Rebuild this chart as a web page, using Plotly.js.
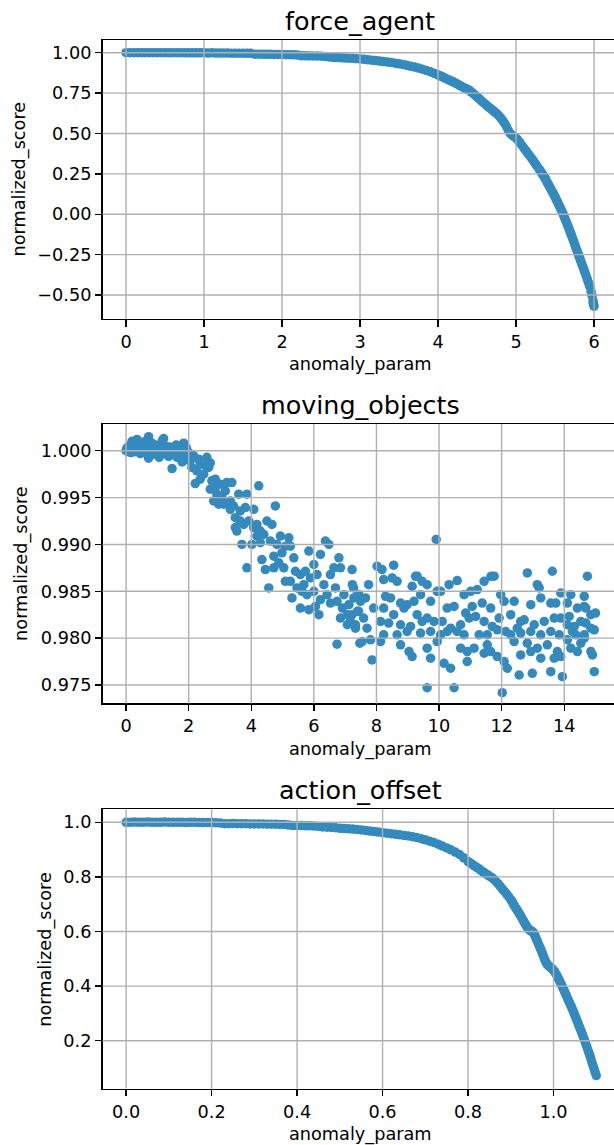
<!DOCTYPE html>
<html><head><meta charset="utf-8">
<script src="https://cdn.plot.ly/plotly-3.0.1.min.js"></script>
<style>html,body{margin:0;padding:0;background:#fff}</style>
</head><body><div id="chart" style="width:614px;height:1145px"></div>
<script>
// ---------- force_agent ----------
const forceX = [0,0.05,0.1,0.15,0.2,0.25,0.3,0.35,0.4,0.45,0.5,0.55,0.6,0.65,0.7,0.75,0.8,0.85,0.9,0.95,1.0,1.05,1.1,1.15,1.2,1.25,1.3,1.35,1.4,1.45,1.5,1.55,1.6,1.65,1.7,1.75,1.8,1.85,1.9,1.95,2.0,2.05,2.1,2.15,2.2,2.25,2.3,2.35,2.4,2.45,2.5,2.55,2.6,2.65,2.7,2.75,2.8,2.85,2.9,2.95,3.0,3.05,3.1,3.15,3.2,3.25,3.3,3.35,3.4,3.45,3.5,3.55,3.6,3.65,3.7,3.75,3.8,3.85,3.9,3.95,4.0,
4.025,4.05,4.075,4.1,4.125,4.15,4.175,4.2,4.225,4.25,4.275,4.3,4.325,4.35,4.375,4.4,4.425,4.45,4.475,4.5,4.525,4.55,4.575,4.6,4.625,4.65,4.675,4.7,4.725,4.75,4.775,4.8,4.825,4.85,4.875,4.9,4.925,4.95,4.975,5.0,5.025,5.05,5.075,5.1,5.125,5.15,5.175,5.2,5.225,5.25,5.275,5.3,5.325,5.35,5.375,5.4,5.425,5.45,5.475,5.5,5.525,5.55,5.575,5.6,5.625,5.65,5.675,5.7,5.725,5.75,5.775,5.8,5.825,5.85,5.875,5.9,5.925,5.95,5.9625,5.975,5.9875,6.0,
5.3125,5.3375,5.3625,5.3875,5.4125,5.4375,5.4625,5.4875,5.5125,5.5375,5.5625,5.5875,5.6125,5.6375,5.6625,5.6875,5.7125,5.7375,5.7625,5.7875,5.8125,5.8375,5.8625,5.8875,5.9125,5.9375,5.99,5.995];
const forceY = [1.0,1.0,1.0,1.0,1.0,1.0,1.0,1.0,1.0,1.0,1.0,0.999,1.0,0.999,1.0,0.999,0.999,0.999,0.999,0.999,0.999,0.998,0.999,0.998,0.998,0.998,0.998,0.997,0.997,0.997,0.997,0.996,0.996,0.991,0.991,0.990,0.990,0.990,0.989,0.989,0.989,0.988,0.988,0.987,0.985,0.981,0.981,0.980,0.980,0.979,0.978,0.977,0.974,0.971,0.970,0.969,0.967,0.966,0.965,0.963,0.961,0.959,0.956,0.954,0.951,0.948,0.945,0.942,0.939,0.935,0.931,0.927,0.922,0.916,0.911,0.905,0.898,0.890,0.882,0.872,0.862,
0.857,0.852,0.846,0.840,0.834,0.829,0.823,0.818,0.811,0.805,0.798,0.791,0.785,0.779,0.774,0.768,0.758,0.748,0.737,0.726,0.716,0.705,0.694,0.684,0.673,0.663,0.654,0.644,0.634,0.624,0.612,0.598,0.583,0.565,0.546,0.520,0.500,0.489,0.480,0.472,0.459,0.443,0.427,0.410,0.394,0.378,0.362,0.346,0.329,0.312,0.294,0.276,0.258,0.240,0.220,0.197,0.175,0.153,0.130,0.107,0.082,0.057,0.031,0.005,-0.025,-0.055,-0.085,-0.117,-0.150,-0.183,-0.217,-0.250,-0.283,-0.316,-0.349,-0.383,-0.418,-0.452,-0.478,-0.505,-0.537,-0.570,
0.267,0.249,0.230,0.209,0.186,0.164,0.142,0.119,0.095,0.070,0.044,0.018,-0.010,-0.040,-0.070,-0.101,-0.133,-0.166,-0.200,-0.233,-0.266,-0.299,-0.332,-0.366,-0.400,-0.435,-0.550,-0.560];

// ---------- moving_objects ----------
const movingPoints = [
[0,1.0],[0.03,1.0003],[0.06,0.9999],[0.1,1.0005],[0.13,1.0002],[0.16,0.9998],[0.19,1.001],[0.2,1.0006],[0.23,1.0001],[0.26,1.0004],[0.3,0.9999],[0.33,1.0007],[0.35,1.0012],[0.36,1.0003],[0.4,1.0],[0.43,1.0005],[0.46,0.9997],[0.5,1.0009],[0.53,1.0002],[0.56,1.0006],[0.6,0.9998],[0.63,1.0003],[0.66,1.0011],[0.72,1.0015],[0.72,0.9992],[0.7,1.0007],[0.73,1.0001],[0.76,0.9995],[0.8,1.0004],[0.83,1.0008],[0.86,0.9999],[0.9,1.0002],[0.93,1.0006],[0.96,0.9996],[1.0,1.0001],[1.03,1.0004],[1.06,0.9993],[1.1,1.0006],[1.13,0.9998],[1.16,1.0011],[1.2,1.0013],[1.2,1.0002],[1.23,0.9997],[1.26,1.0005],[1.3,0.9999],[1.33,1.0002],[1.36,0.9994],[1.4,1.0004],[1.43,1.0],[1.47,0.9981],[1.5,0.9996],[1.53,1.0003],[1.57,0.9999],[1.6,1.0006],[1.63,0.9993],[1.67,1.0002],[1.7,0.9997],[1.73,1.0005],[1.77,0.9999],[1.79,0.9988],[1.8,1.0004],[1.83,0.9994],[1.84,1.0008],[1.87,1.0],[1.9,0.9997],[1.93,1.0003],[1.97,0.9991],
[2.16,0.99946],[2.37,0.99857],[2.58,0.99929],[2.64,0.99821],[2.26,0.99786],[2.48,0.9975],[2.21,0.9965],[2.10,0.99821],[2.37,0.99696],[2.0,0.9998],[2.05,0.9989],[1.89,0.9993],[2.32,0.9991],[2.53,0.9984],[2.69,0.9987],
[2.69,0.99589],[2.85,0.99696],[3.01,0.99643],[3.22,0.9966],[3.38,0.9966],[2.80,0.99464],[2.90,0.99536],[3.12,0.99429],[3.33,0.99464],[3.06,0.995],[3.33,0.99375],[2.96,0.99429],[2.74,0.99679],[3.17,0.99571],[2.85,0.99607],
[3.60,0.99536],[3.86,0.99536],[4.24,0.99625],[3.49,0.99286],[3.65,0.99357],[3.81,0.99393],[3.54,0.99143],[3.76,0.99214],[3.92,0.9925],[3.70,0.99],[4.02,0.99],[3.86,0.9875],[4.08,0.99375],[3.44,0.9941],[3.65,0.9925],[3.49,0.9918],
[4.08,0.99179],[4.18,0.99089],[4.29,0.99143],[4.40,0.99107],[4.50,0.9925],[4.66,0.99214],[4.77,0.99411],[4.82,0.99],[4.93,0.99089],[5.09,0.98982],[5.20,0.99071],[5.25,0.98982],[4.34,0.98839],[4.45,0.98732],[4.72,0.98875],[4.72,0.9875],[4.88,0.98804],[5.04,0.9875],[4.56,0.98536],[5.09,0.98607],[4.98,0.98911],[4.18,0.99214],[4.61,0.99036],[4.29,0.99018],
[5.25,0.98607],[5.36,0.98857],[5.57,0.98679],[5.73,0.98714],[5.84,0.98929],[6.00,0.98786],[6.10,0.98679],[6.21,0.98893],[6.37,0.99036],[6.48,0.99],[5.46,0.98536],[5.62,0.985],[5.78,0.98464],[6.00,0.985],[6.21,0.98411],[6.42,0.98464],[5.57,0.98321],[5.84,0.98304],[6.16,0.9825],[5.30,0.98429],[5.68,0.98571],[6.53,0.98679],[6.64,0.9875],[6.80,0.98857],[6.85,0.9875],[5.41,0.98714],[5.89,0.98643],[6.32,0.98571],[6.05,0.98339],[6.53,0.98375],
[6.74,0.98393],[6.96,0.98464],[7.12,0.98357],[7.28,0.98429],[7.44,0.98464],[7.07,0.9825],[6.85,0.98214],[7.17,0.98179],[7.39,0.98286],[7.07,0.98143],[6.74,0.97936],[7.47,0.97946],[6.69,0.98536],[7.23,0.98571],[6.91,0.98321],[7.33,0.98107],
[7.22,0.98732],[7.27,0.98536],[7.38,0.98446],[7.49,0.98393],[7.65,0.98429],[7.75,0.98571],[7.22,0.9825],[7.43,0.98286],[7.59,0.98214],[7.33,0.98143],[7.54,0.97964],[7.81,0.97982],[7.86,0.97768],[7.70,0.98107],[7.91,0.98321],
[8.02,0.98768],[8.18,0.98732],[8.55,0.98779],[8.23,0.98625],[8.50,0.98643],[8.66,0.98607],[9.14,0.98554],[9.30,0.98661],[9.62,0.98571],[9.46,0.98607],[8.29,0.98446],[8.45,0.98429],[8.77,0.98375],[8.98,0.98357],[9.20,0.98393],[9.41,0.98464],[9.73,0.98393],[9.94,0.985],[8.23,0.98321],[8.55,0.9825],[8.88,0.98321],[9.30,0.9825],[9.62,0.98214],[8.13,0.98179],[8.39,0.98161],[8.77,0.98143],[9.09,0.98125],[9.46,0.98179],[9.84,0.98179],[8.23,0.98036],[8.66,0.98036],[8.98,0.98071],[9.41,0.98054],[9.73,0.98071],[8.13,0.97964],[8.77,0.97929],[9.04,0.97857],[9.14,0.97804],[9.62,0.97893],[9.73,0.97786],[9.94,0.97964],[9.91,0.99054],[9.62,0.97471],[9.25,0.9866],
[10.32,0.98571],[10.58,0.98614],[10.05,0.985],[10.80,0.98464],[11.01,0.985],[11.22,0.98518],[11.44,0.98607],[11.76,0.98661],[10.26,0.98321],[10.48,0.98339],[10.85,0.98268],[11.06,0.98339],[11.38,0.98375],[11.65,0.98321],[11.97,0.98464],[12.08,0.98393],[10.10,0.98179],[10.37,0.98107],[10.69,0.98143],[10.96,0.98214],[11.17,0.98232],[11.44,0.98179],[11.70,0.98125],[11.92,0.98214],[10.05,0.98036],[10.26,0.98071],[10.58,0.98071],[10.80,0.98036],[11.28,0.98036],[11.54,0.98036],[11.86,0.98089],[12.13,0.98071],[10.69,0.97893],[10.90,0.97857],[11.12,0.97893],[11.44,0.97839],[10.16,0.97732],[10.37,0.97679],[10.90,0.9775],[11.65,0.97857],[11.86,0.97804],[12.08,0.9775],[12.18,0.97679],[11.54,0.97929],[10.48,0.97471],[12.02,0.97418],[11.66,0.9866],
[12.40,0.98393],[12.82,0.98696],[13.14,0.98571],[13.20,0.98536],[13.62,0.98714],[13.89,0.98482],[14.21,0.98464],[14.64,0.98446],[12.29,0.9825],[12.61,0.98179],[12.93,0.98357],[13.25,0.98429],[13.57,0.98375],[13.73,0.98375],[14.10,0.98375],[14.42,0.98321],[14.64,0.98339],[12.50,0.98107],[12.72,0.98196],[13.04,0.98143],[13.36,0.98179],[13.68,0.98214],[13.89,0.98214],[14.16,0.98232],[14.53,0.98179],[12.29,0.98036],[12.61,0.98054],[12.93,0.98071],[13.25,0.98036],[13.57,0.98071],[13.84,0.98036],[14.26,0.98071],[14.64,0.98036],[12.40,0.97964],[12.82,0.97946],[13.14,0.97893],[13.46,0.97929],[13.78,0.97857],[14.21,0.97893],[14.53,0.97946],[12.61,0.97821],[12.93,0.97857],[13.25,0.97786],[13.68,0.97786],[13.89,0.97804],[14.42,0.97857],[12.56,0.97607],[12.98,0.97625],[13.57,0.97643],[13.94,0.97589],
[14.74,0.98661],[14.69,0.98321],[14.85,0.9825],[15.0,0.98268],[14.10,0.98143],[14.32,0.98125],[14.69,0.98161],[14.85,0.98107],[14.96,0.98089],[14.64,0.98],[14.10,0.97982],[14.37,0.98036],[14.85,0.97857],[14.90,0.97821],[14.96,0.97643]
];

// ---------- action_offset ----------
const actionX = [0,0.01,0.02,0.03,0.04,0.05,0.06,0.07,0.08,0.09,0.1,0.11,0.12,0.13,0.14,0.15,0.16,0.17,0.18,0.19,0.2,0.21,0.22,0.23,0.24,0.25,0.26,0.27,0.28,0.29,0.3,0.31,0.32,0.33,0.34,0.35,0.36,0.37,0.38,0.39,0.4,0.41,0.42,0.43,0.44,0.45,0.46,0.47,0.48,0.49,0.5,0.51,0.52,0.53,0.54,0.55,0.56,0.57,0.58,0.59,0.6,0.61,0.62,0.63,0.64,0.65,0.66,0.67,0.68,0.69,0.7,0.71,0.72,0.73,0.74,0.75,0.76,0.77,0.78,0.79,0.8,
0.805,0.81,0.815,0.82,0.825,0.83,0.835,0.84,0.845,0.85,0.855,0.86,0.865,0.87,0.875,0.88,0.885,0.89,0.895,0.9,0.905,0.91,0.915,0.92,0.925,0.93,0.935,0.94,0.945,0.95,0.955,0.96,0.965,0.97,0.975,0.98,0.985,0.99,0.995,1.0,1.005,1.01,1.015,1.02,1.025,1.03,1.035,1.04,1.045,1.05,1.055,1.06,1.065,1.07,1.075,1.08,1.085,1.09,1.095,1.1,
0.9025,0.9075,0.9125,0.9175,0.9225,0.9275,0.9325,0.9375,0.9425,0.9475,0.9525,0.9575,0.9625,0.9675,0.9725,0.9775,0.9825,0.9875,0.9925,0.9975,1.0025,1.0075,1.0125,1.0175,1.0225,1.0275,1.0325,1.0375,1.0425,1.0475,1.0525,1.0575,1.0625,1.0675,1.0725,1.0775,1.0825,1.0875,1.0925,1.0975];
const actionY = [1.0,1.0,1.001,1.0,1.0,1.001,1.0,1.0,1.0,1.001,1.0,1.0,1.0,1.0,0.999,1.0,1.0,0.999,0.999,0.999,0.999,0.998,0.997,0.995,0.995,0.996,0.995,0.995,0.995,0.994,0.994,0.994,0.994,0.993,0.993,0.993,0.992,0.992,0.990,0.988,0.988,0.988,0.987,0.987,0.986,0.985,0.983,0.982,0.981,0.980,0.978,0.977,0.976,0.975,0.974,0.972,0.970,0.968,0.966,0.964,0.962,0.960,0.958,0.956,0.954,0.952,0.950,0.947,0.944,0.940,0.936,0.931,0.926,0.920,0.913,0.906,0.899,0.891,0.882,0.870,0.856,
0.851,0.846,0.840,0.835,0.830,0.824,0.818,0.813,0.808,0.803,0.798,0.792,0.784,0.775,0.766,0.756,0.747,0.738,0.728,0.717,0.704,0.690,0.678,0.665,0.652,0.638,0.624,0.612,0.604,0.600,0.590,0.572,0.553,0.535,0.515,0.495,0.480,0.472,0.466,0.458,0.447,0.432,0.416,0.400,0.383,0.365,0.347,0.330,0.312,0.293,0.273,0.253,0.233,0.212,0.191,0.168,0.145,0.120,0.096,0.072,
0.711,0.697,0.684,0.672,0.659,0.645,0.631,0.618,0.608,0.602,0.596,0.581,0.563,0.544,0.525,0.505,0.487,0.476,0.469,0.462,0.453,0.440,0.424,0.408,0.392,0.374,0.356,0.339,0.321,0.303,0.283,0.263,0.243,0.223,0.202,0.180,0.157,0.133,0.108,0.084];

// ---------- ticks ----------
const forceXTicks = [0,1,2,3,4,5,6];
const forceXLabels = ['0','1','2','3','4','5','6'];
const forceYTicks = [-0.5,-0.25,0,0.25,0.5,0.75,1.0];
const forceYLabels = ['\u22120.50','\u22120.25','0.00','0.25','0.50','0.75','1.00'];
const movingXTicks = [0,2,4,6,8,10,12,14];
const movingXLabels = ['0','2','4','6','8','10','12','14'];
const movingYTicks = [0.975,0.98,0.985,0.99,0.995,1.0];
const movingYLabels = ['0.975','0.980','0.985','0.990','0.995','1.000'];
const actionXTicks = [0,0.2,0.4,0.6,0.8,1.0];
const actionXLabels = ['0.0','0.2','0.4','0.6','0.8','1.0'];
const actionYTicks = [0.2,0.4,0.6,0.8,1.0];
const actionYLabels = ['0.2','0.4','0.6','0.8','1.0'];
const titles = ['force_agent','moving_objects','action_offset'];
const xLabel = 'anomaly_param';
const yLabel = 'normalized_score';

const W = 614, H = 1145;
const COLOR = '#348ABD';
const FONT = 'DejaVu Sans, Verdana, sans-serif';
const TICKFS = 17.7, LABELFS = 17.7, TITLEFS = 25.4;
const LW = 1.4;
const GRID = '#b0b0b0';

const xDom = [102.6 / W, 1];
const frames = [[40, 319], [424, 703.4], [809.3, 1088.7]];
const yDom = frames.map(f => [1 - f[1] / H, 1 - f[0] / H]);

const marker = {color: COLOR, size: 9.5, line: {width: 0}};
const movingX = movingPoints.map(p => p[0]);
const movingY = movingPoints.map(p => p[1]);

const traces = [
  {type: 'scatter', mode: 'markers', x: forceX, y: forceY, xaxis: 'x', yaxis: 'y', marker: marker, hoverinfo: 'none'},
  {type: 'scatter', mode: 'markers', x: movingX, y: movingY, xaxis: 'x2', yaxis: 'y2', marker: marker, hoverinfo: 'none'},
  {type: 'scatter', mode: 'markers', x: actionX, y: actionY, xaxis: 'x3', yaxis: 'y3', marker: marker, hoverinfo: 'none'}
];

function xa(dom, range, tv, tt, anchor) {
  return {domain: dom, range: range, anchor: anchor, tickmode: 'array', tickvals: tv, ticktext: tt,
    showgrid: false, zeroline: false, showline: true, linecolor: '#000', linewidth: LW, mirror: true,
    ticks: 'outside', ticklen: 6.2, tickwidth: LW, tickcolor: '#000',
    tickfont: {family: FONT, size: TICKFS, color: '#000'}, fixedrange: true};
}
function ya(dom, range, tv, tt, anchor) {
  return {domain: dom, range: range, anchor: anchor, tickmode: 'array', tickvals: tv, ticktext: tt,
    showgrid: false, zeroline: false, showline: true, linecolor: '#000', linewidth: LW, mirror: false,
    ticks: 'outside', ticklen: 6.2, tickwidth: LW, tickcolor: '#000',
    tickfont: {family: FONT, size: TICKFS, color: '#000'}, fixedrange: true};
}

// grid lines drawn above the markers (as in the reference), built from tick arrays
const shapes = [];
function grid(xref, yref, xt, yt) {
  xt.forEach(v => shapes.push({type: 'line', layer: 'above', xref: xref, yref: yref + ' domain', x0: v, x1: v, y0: 0, y1: 1, line: {color: GRID, width: LW}}));
  yt.forEach(v => shapes.push({type: 'line', layer: 'above', xref: xref + ' domain', yref: yref, x0: 0, x1: 1, y0: v, y1: v, line: {color: GRID, width: LW}}));
}
grid('x', 'y', forceXTicks, forceYTicks);
grid('x2', 'y2', movingXTicks, movingYTicks);
grid('x3', 'y3', actionXTicks, actionYTicks);

const annotations = [];
const cx = 360 / W;
const titleY = [20.6, 404.6, 789.9];
const xlabY = [365, 749.4, 1134.7];
const ylabX = [19, 22.2, 44.8];
for (let i = 0; i < 3; i++) {
  annotations.push({xref: 'paper', yref: 'paper', x: cx, y: 1 - titleY[i] / H, xanchor: 'center', yanchor: 'middle', showarrow: false, text: titles[i], font: {family: FONT, size: TITLEFS, color: '#000'}});
  annotations.push({xref: 'paper', yref: 'paper', x: cx, y: 1 - xlabY[i] / H, xanchor: 'center', yanchor: 'middle', showarrow: false, text: xLabel, font: {family: FONT, size: LABELFS, color: '#000'}});
  const mid = (frames[i][0] + frames[i][1]) / 2;
  annotations.push({xref: 'paper', yref: 'paper', x: ylabX[i] / W, y: 1 - mid / H, xanchor: 'center', yanchor: 'middle', textangle: -90, showarrow: false, text: yLabel, font: {family: FONT, size: LABELFS, color: '#000'}});
}

const layout = {
  width: W, height: H, margin: {l: 0, r: 0, t: 0, b: 0, pad: 0},
  paper_bgcolor: '#fff', plot_bgcolor: '#fff', showlegend: false,
  xaxis: xa(xDom, [-0.3, 6.256], forceXTicks, forceXLabels, 'y'),
  yaxis: ya(yDom[0], [-0.6486, 1.0786], forceYTicks, forceYLabels, 'x'),
  xaxis2: xa(xDom, [-0.75, 15.59], movingXTicks, movingXLabels, 'y2'),
  yaxis2: ya(yDom[1], [0.97304, 1.00285], movingYTicks, movingYLabels, 'x2'),
  xaxis3: xa(xDom, [-0.055, 1.1415], actionXTicks, actionXLabels, 'y3'),
  yaxis3: ya(yDom[2], [0.0241, 1.0476], actionYTicks, actionYLabels, 'x3'),
  shapes: shapes, annotations: annotations
};

Plotly.newPlot('chart', traces, layout, {staticPlot: true, displayModeBar: false});
</script>
</body></html>
